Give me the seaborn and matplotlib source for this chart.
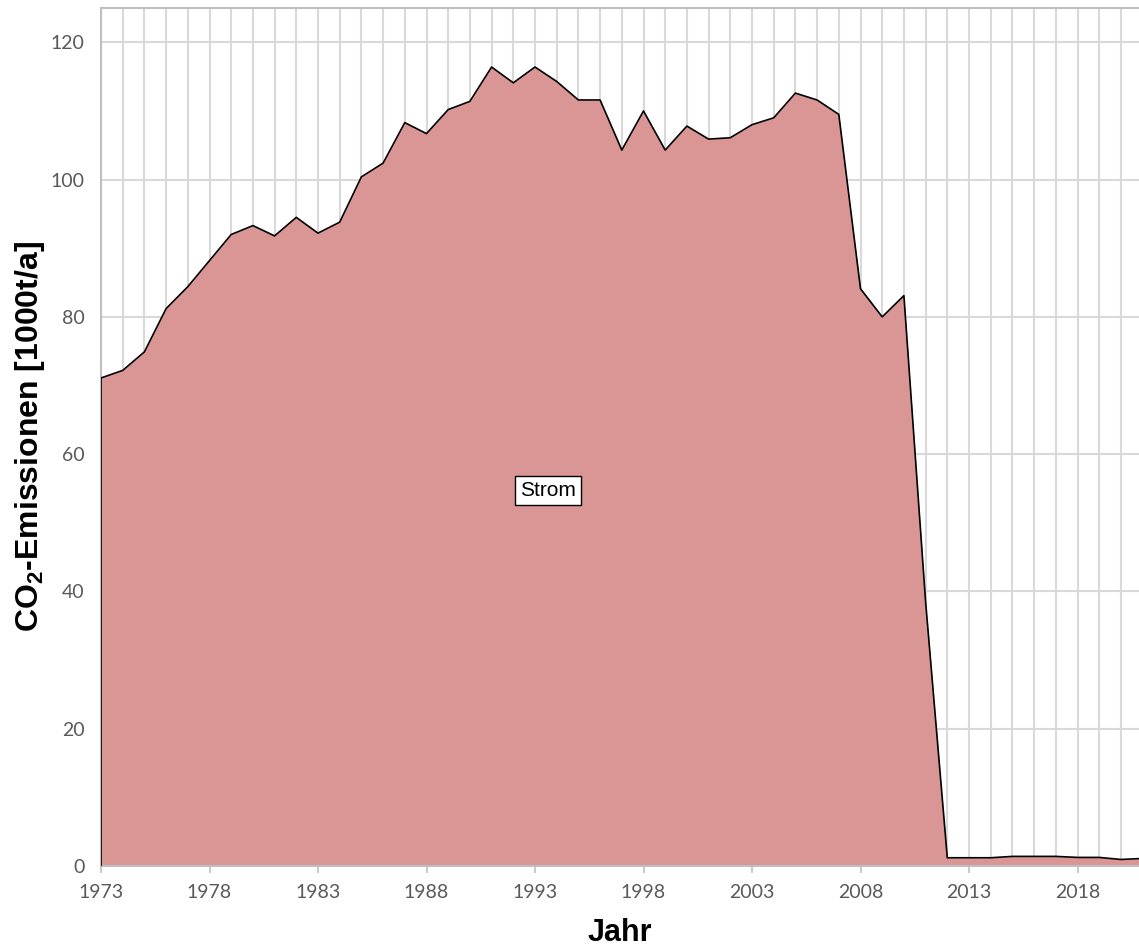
import numpy as np
import pandas as pd
import matplotlib.pyplot as plt
import seaborn as sns
from matplotlib.ticker import MultipleLocator, FixedLocator

# Daten
jahre = list(range(1973, 2022))
strom = [71.1, 72.2, 74.9, 81.2, 84.4, 88.2, 92.0, 93.3, 91.8, 94.5,
         92.2, 93.8, 100.4, 102.4, 108.3, 106.7, 110.2, 111.4, 116.4, 114.1,
         116.4, 114.3, 111.6, 111.6, 104.3, 110.0, 104.3, 107.8, 105.9, 106.1,
         108.0, 109.0, 112.6, 111.6, 109.5, 84.1, 80.0, 83.1, 38.5, 1.2,
         1.2, 1.2, 1.4, 1.4, 1.4, 1.25, 1.25, 0.95, 1.1]
label_text = "Strom"

df = pd.DataFrame({"Jahr": jahre, "Strom": strom})

sns.set_theme(style="white")
plt.rcParams['font.family'] = ['Lato', 'DejaVu Sans']
plt.rcParams['mathtext.fontset'] = 'custom'
plt.rcParams['mathtext.rm'] = 'Liberation Sans'
plt.rcParams['mathtext.bf'] = 'Liberation Sans:bold'

fig = plt.figure(figsize=(11.39, 9.49), dpi=100)
ax = fig.add_axes([101/1139, 83/949, 1041.6/1139, 858/949])

ax.fill_between(df["Jahr"], 0, df["Strom"], color="#D99694", linewidth=0, zorder=2)
sns.lineplot(data=df, x="Jahr", y="Strom", color="black", linewidth=1.2, ax=ax, zorder=3)
ax.plot([1973, 1973], [0, strom[0]], color="black", linewidth=1.2, zorder=3)

ax.set_xlim(1973, 2021)
ax.set_ylim(0, 125)
ax.xaxis.set_major_locator(FixedLocator(list(range(1973, 2022, 5))))
ax.xaxis.set_minor_locator(MultipleLocator(1))
ax.yaxis.set_major_locator(FixedLocator([0, 20, 40, 60, 80, 100, 120]))

ax.grid(which="both", axis="x", color="#d9d9d9", linewidth=1.5, zorder=0)
ax.grid(which="major", axis="y", color="#d9d9d9", linewidth=1.5, zorder=0)
ax.set_axisbelow(True)

for s in ["top", "left", "bottom"]:
    ax.spines[s].set_color("#bfbfbf")
    ax.spines[s].set_linewidth(1.5)
ax.spines["right"].set_visible(False)

ax.tick_params(axis="x", which="major", bottom=True, length=5, width=1.2, color="#bfbfbf",
               labelsize=14, labelcolor="#595959", pad=8)
ax.tick_params(axis="x", which="minor", bottom=False)
ax.tick_params(axis="y", left=False, labelsize=14, labelcolor="#595959", pad=6)

ax.set_xlabel("Jahr", fontsize=22, fontweight="bold", family="Liberation Sans", color="black")
ax.set_ylabel(r"CO$_\mathbf{2}$-Emissionen [1000t/a]", fontsize=23, fontweight="bold",
              family="Liberation Sans", color="black")
ax.xaxis.set_label_coords(0.498, -0.0606)
ax.yaxis.set_label_coords(-0.0519, 0.5)

ax.text(1993.6, 54.7, label_text, fontsize=15, family="Liberation Sans", color="black",
        ha="center", va="center", zorder=5,
        bbox=dict(boxstyle="square,pad=0.25", facecolor="white", edgecolor="black", linewidth=1))

fig.savefig("out.png", dpi=100)
